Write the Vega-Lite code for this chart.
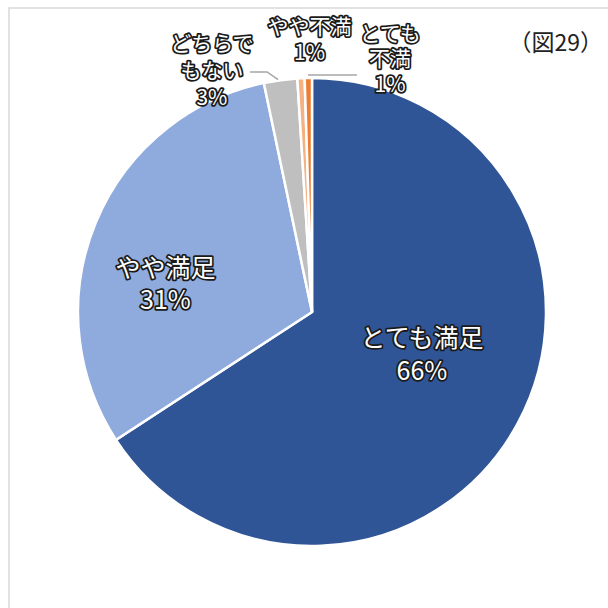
{
  "$schema": "https://vega.github.io/schema/vega-lite/v6.json",
  "width": 606,
  "height": 608,
  "autosize": {"type": "none"},
  "padding": {"left": 9, "top": 8, "right": 0, "bottom": 0},
  "background": "white",
  "config": {
    "view": {"stroke": "#D9D9D9", "strokeWidth": 1.5},
    "font": "Noto Sans CJK JP"
  },
  "title": {
    "text": "（図29）",
    "frame": "group",
    "anchor": "end",
    "orient": "top",
    "baseline": "middle",
    "offset": 0,
    "dy": 59,
    "dx": -12,
    "fontSize": 23,
    "fontWeight": "normal",
    "color": "#222222",
    "font": "Noto Sans CJK JP"
  },
  "datasets": {
    "pie": [
      {"cat": "とても満足", "value": 65.8, "order": 1, "label": "とても満足\n66%"},
      {"cat": "やや満足", "value": 30.9, "order": 2, "label": "やや満足\n31%"},
      {"cat": "どちらでもない", "value": 2.3, "order": 3, "label": "どちらで\nもない\n3%"},
      {"cat": "やや不満", "value": 0.5, "order": 4, "label": "やや不満\n1%"},
      {"cat": "とても不満", "value": 0.5, "order": 5, "label": "とても\n不満\n1%"}
    ],
    "leaders": [
      {"line": "a", "i": 1, "x": -0.265, "y": 1.026},
      {"line": "a", "i": 2, "x": -0.192, "y": 1.026},
      {"line": "a", "i": 3, "x": -0.145, "y": 0.993},
      {"line": "b", "i": 1, "x": -0.017, "y": 1.013},
      {"line": "b", "i": 2, "x": 0.192, "y": 1.013}
    ]
  },
  "layer": [
    {
      "data": {"name": "pie"},
      "encoding": {
        "theta": {"field": "value", "type": "quantitative", "stack": true, "scale": {"domain": [0, 100]}},
        "order": {"field": "order", "type": "quantitative"}
      },
      "layer": [
        {
          "mark": {"type": "arc", "outerRadius": 234, "stroke": "white", "strokeWidth": 2.5},
          "encoding": {
            "color": {
              "field": "cat",
              "type": "nominal",
              "scale": {
                "domain": ["とても満足", "やや満足", "どちらでもない", "やや不満", "とても不満"],
                "range": ["#2F5597", "#8FAADC", "#BFBFBF", "#F4B183", "#ED7D31"]
              },
              "legend": null
            }
          }
        },
        {
          "mark": {"type": "text", "radius": 118, "thetaOffset": -0.124, "dy": -16, "fontSize": 25, "lineHeight": 33, "lineBreak": "\n", "baseline": "middle", "align": "center", "stroke": "#1a1a1a", "strokeWidth": 3.5, "strokeJoin": "round", "fill": "#1a1a1a"},
          "encoding": {"text": {"condition": {"test": "datum.cat === 'とても満足'", "field": "label"}, "value": ""}}
        },
        {
          "mark": {"type": "text", "radius": 118, "thetaOffset": -0.124, "dy": -16, "fontSize": 25, "lineHeight": 33, "lineBreak": "\n", "baseline": "middle", "align": "center", "fill": "white"},
          "encoding": {"text": {"condition": {"test": "datum.cat === 'とても満足'", "field": "label"}, "value": ""}}
        },
        {
          "mark": {"type": "text", "radius": 149, "thetaOffset": -0.209, "dy": -16, "fontSize": 25, "lineHeight": 32, "lineBreak": "\n", "baseline": "middle", "align": "center", "stroke": "#1a1a1a", "strokeWidth": 3.5, "strokeJoin": "round", "fill": "#1a1a1a"},
          "encoding": {"text": {"condition": {"test": "datum.cat === 'やや満足'", "field": "label"}, "value": ""}}
        },
        {
          "mark": {"type": "text", "radius": 149, "thetaOffset": -0.209, "dy": -16, "fontSize": 25, "lineHeight": 32, "lineBreak": "\n", "baseline": "middle", "align": "center", "fill": "white"},
          "encoding": {"text": {"condition": {"test": "datum.cat === 'やや満足'", "field": "label"}, "value": ""}}
        },
        {
          "mark": {"type": "text", "radius": 260, "thetaOffset": -0.26, "dy": -27, "fontSize": 21, "lineHeight": 27, "lineBreak": "\n", "baseline": "middle", "align": "center", "stroke": "#1a1a1a", "strokeWidth": 3.5, "strokeJoin": "round", "fill": "#1a1a1a"},
          "encoding": {"text": {"condition": {"test": "datum.cat === 'どちらでもない'", "field": "label"}, "value": ""}}
        },
        {
          "mark": {"type": "text", "radius": 260, "thetaOffset": -0.26, "dy": -27, "fontSize": 21, "lineHeight": 27, "lineBreak": "\n", "baseline": "middle", "align": "center", "fill": "white"},
          "encoding": {"text": {"condition": {"test": "datum.cat === 'どちらでもない'", "field": "label"}, "value": ""}}
        },
        {
          "mark": {"type": "text", "radius": 271, "thetaOffset": 0.038, "dy": -13, "fontSize": 21, "lineHeight": 26, "lineBreak": "\n", "baseline": "middle", "align": "center", "stroke": "#1a1a1a", "strokeWidth": 3.5, "strokeJoin": "round", "fill": "#1a1a1a"},
          "encoding": {"text": {"condition": {"test": "datum.cat === 'やや不満'", "field": "label"}, "value": ""}}
        },
        {
          "mark": {"type": "text", "radius": 271, "thetaOffset": 0.038, "dy": -13, "fontSize": 21, "lineHeight": 26, "lineBreak": "\n", "baseline": "middle", "align": "center", "fill": "white"},
          "encoding": {"text": {"condition": {"test": "datum.cat === 'やや不満'", "field": "label"}, "value": ""}}
        },
        {
          "mark": {"type": "text", "radius": 264, "thetaOffset": 0.316, "dy": -25, "fontSize": 21, "lineHeight": 25.5, "lineBreak": "\n", "baseline": "middle", "align": "center", "stroke": "#1a1a1a", "strokeWidth": 3.5, "strokeJoin": "round", "fill": "#1a1a1a"},
          "encoding": {"text": {"condition": {"test": "datum.cat === 'とても不満'", "field": "label"}, "value": ""}}
        },
        {
          "mark": {"type": "text", "radius": 264, "thetaOffset": 0.316, "dy": -25, "fontSize": 21, "lineHeight": 25.5, "lineBreak": "\n", "baseline": "middle", "align": "center", "fill": "white"},
          "encoding": {"text": {"condition": {"test": "datum.cat === 'とても不満'", "field": "label"}, "value": ""}}
        }
      ]
    },
    {
      "data": {"name": "leaders"},
      "mark": {"type": "line", "color": "#A6A6A6", "strokeWidth": 1.5},
      "encoding": {
        "x": {"field": "x", "type": "quantitative", "scale": {"domain": [-1.2949, 1.2949], "nice": false, "zero": false}, "axis": null},
        "y": {"field": "y", "type": "quantitative", "scale": {"domain": [-1.2991, 1.2991], "nice": false, "zero": false}, "axis": null},
        "detail": {"field": "line", "type": "nominal"},
        "order": {"field": "i", "type": "quantitative"}
      }
    }
  ]
}
